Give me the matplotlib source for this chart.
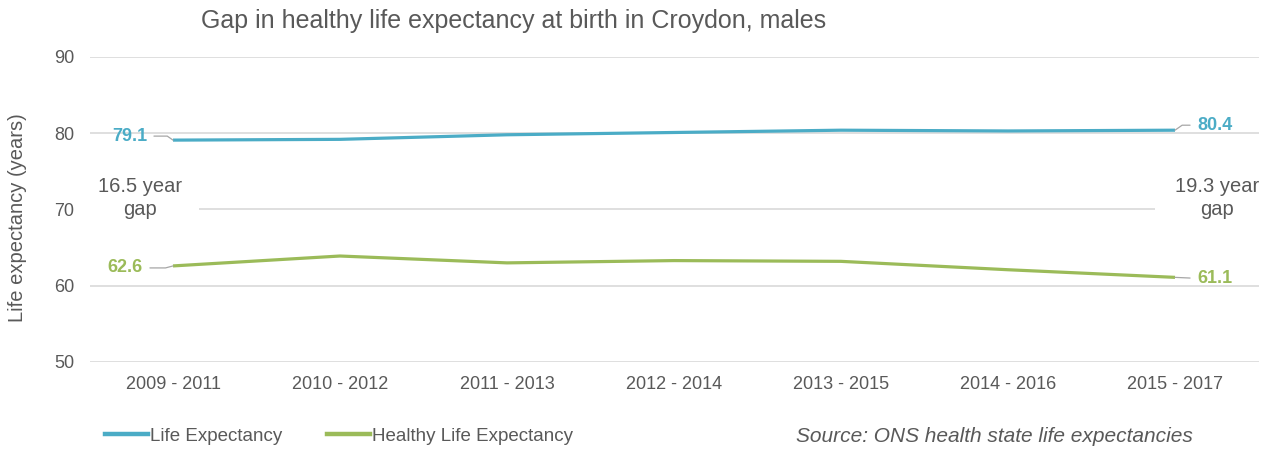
import matplotlib
matplotlib.use("Agg")
import matplotlib.pyplot as plt
from matplotlib.lines import Line2D

plt.rcParams['font.family'] = ['Liberation Sans', 'DejaVu Sans']

periods = ["2009 - 2011", "2010 - 2012", "2011 - 2013", "2012 - 2014",
           "2013 - 2015", "2014 - 2016", "2015 - 2017"]
life_expectancy = [79.1, 79.2, 79.8, 80.1, 80.4, 80.3, 80.4]
healthy_life_expectancy = [62.6, 63.9, 63.0, 63.3, 63.2, 62.1, 61.1]
y_ticks = [50, 60, 70, 80, 90]
gap_labels = ["16.5 year\ngap", "19.3 year\ngap"]

BLUE = "#4BACC6"
GREEN = "#9BBB59"
GREY = "#595959"
GRID = "#D9D9D9"

W, H = 1271, 450
fig = plt.figure(figsize=(W / 100, H / 100), dpi=100)
ax = fig.add_axes([89.5 / W, (H - 362) / H, 1169 / W, 305 / H])

x = list(range(len(periods)))
ax.plot(x, life_expectancy, color=BLUE, lw=2.3, solid_capstyle='butt', zorder=3)
ax.plot(x, healthy_life_expectancy, color=GREEN, lw=2.3, solid_capstyle='butt', zorder=3)

ax.set_xlim(-0.5, len(periods) - 0.5)
ax.set_ylim(50, 90)
ax.set_yticks(y_ticks)
ax.set_xticks(x)
ax.set_xticklabels(periods)
ax.tick_params(axis='both', length=0, colors=GREY, labelsize=13)
ax.tick_params(axis='y', pad=11)
ax.tick_params(axis='x', pad=10)
ax.grid(axis='y', color=GRID, lw=1.2, zorder=0)
ax.set_axisbelow(True)
for s in ax.spines.values():
    s.set_visible(False)

fig.text(18 / W, 1 - 218 / H, "Life expectancy (years)", rotation=90,
         ha='center', va='center', fontsize=14.5, color=GREY)

fig.text(514 / W, 1 - 21 / H, "Gap in healthy life expectancy at birth in Croydon, males",
         ha='center', va='center', fontsize=18, color=GREY)

leader = dict(arrowstyle='-', color='#A6A6A6', lw=0.9, shrinkA=3, shrinkB=0)

# data labels at first point
ax.annotate(f"{life_expectancy[0]:.1f}", xy=(x[0], life_expectancy[0]),
            xytext=(-26, 4), textcoords='offset pixels', ha='right', va='center',
            fontsize=13, fontweight='bold', color=BLUE,
            arrowprops=dict(leader, relpos=(1, 0.5),
                            connectionstyle="angle,angleA=0,angleB=-35,rad=0"))
ax.annotate(f"{healthy_life_expectancy[0]:.1f}", xy=(x[0], healthy_life_expectancy[0]),
            xytext=(-30, -2), textcoords='offset pixels', ha='right', va='center',
            fontsize=13, fontweight='bold', color=GREEN,
            arrowprops=dict(leader, relpos=(1, 0.5),
                            connectionstyle="angle,angleA=0,angleB=15,rad=0"))
# data labels at last point
ax.annotate(f"{life_expectancy[-1]:.1f}", xy=(x[-1], life_expectancy[-1]),
            xytext=(22, 5), textcoords='offset pixels', ha='left', va='center',
            fontsize=13, fontweight='bold', color=BLUE,
            arrowprops=dict(leader, relpos=(0, 0.5),
                            connectionstyle="angle,angleA=0,angleB=35,rad=0"))
ax.annotate(f"{healthy_life_expectancy[-1]:.1f}", xy=(x[-1], healthy_life_expectancy[-1]),
            xytext=(22, -1), textcoords='offset pixels', ha='left', va='center',
            fontsize=13, fontweight='bold', color=GREEN,
            arrowprops=dict(leader, relpos=(0, 0.5)))

# gap labels
ax.text(x[0] - 0.2, 71.5, gap_labels[0], ha='center', va='center', fontsize=14.5,
        color=GREY, linespacing=1.25, zorder=4,
        bbox=dict(boxstyle='square,pad=0.85', fc='white', ec='none'))
ax.text(x[-1] + 0.25, 71.5, gap_labels[1], ha='center', va='center', fontsize=14.5,
        color=GREY, linespacing=1.25, zorder=4,
        bbox=dict(boxstyle='square,pad=0.95', fc='white', ec='none'))

handles = [Line2D([], [], color=BLUE, lw=3.2), Line2D([], [], color=GREEN, lw=3.2)]
fig.legend(handles, ["Life Expectancy", "Healthy Life Expectancy"],
           loc='center left', bbox_to_anchor=(105 / W, 1 - 436 / H), ncol=2,
           frameon=False, fontsize=13.5, handlelength=2.3, handletextpad=0.1,
           columnspacing=2.4, borderpad=0, borderaxespad=0, labelcolor=GREY)

fig.text(1193 / W, 1 - 436 / H, "Source: ONS health state life expectancies",
         ha='right', va='center', fontsize=15, style='italic', color=GREY)

fig.savefig("out.png", dpi=100)
